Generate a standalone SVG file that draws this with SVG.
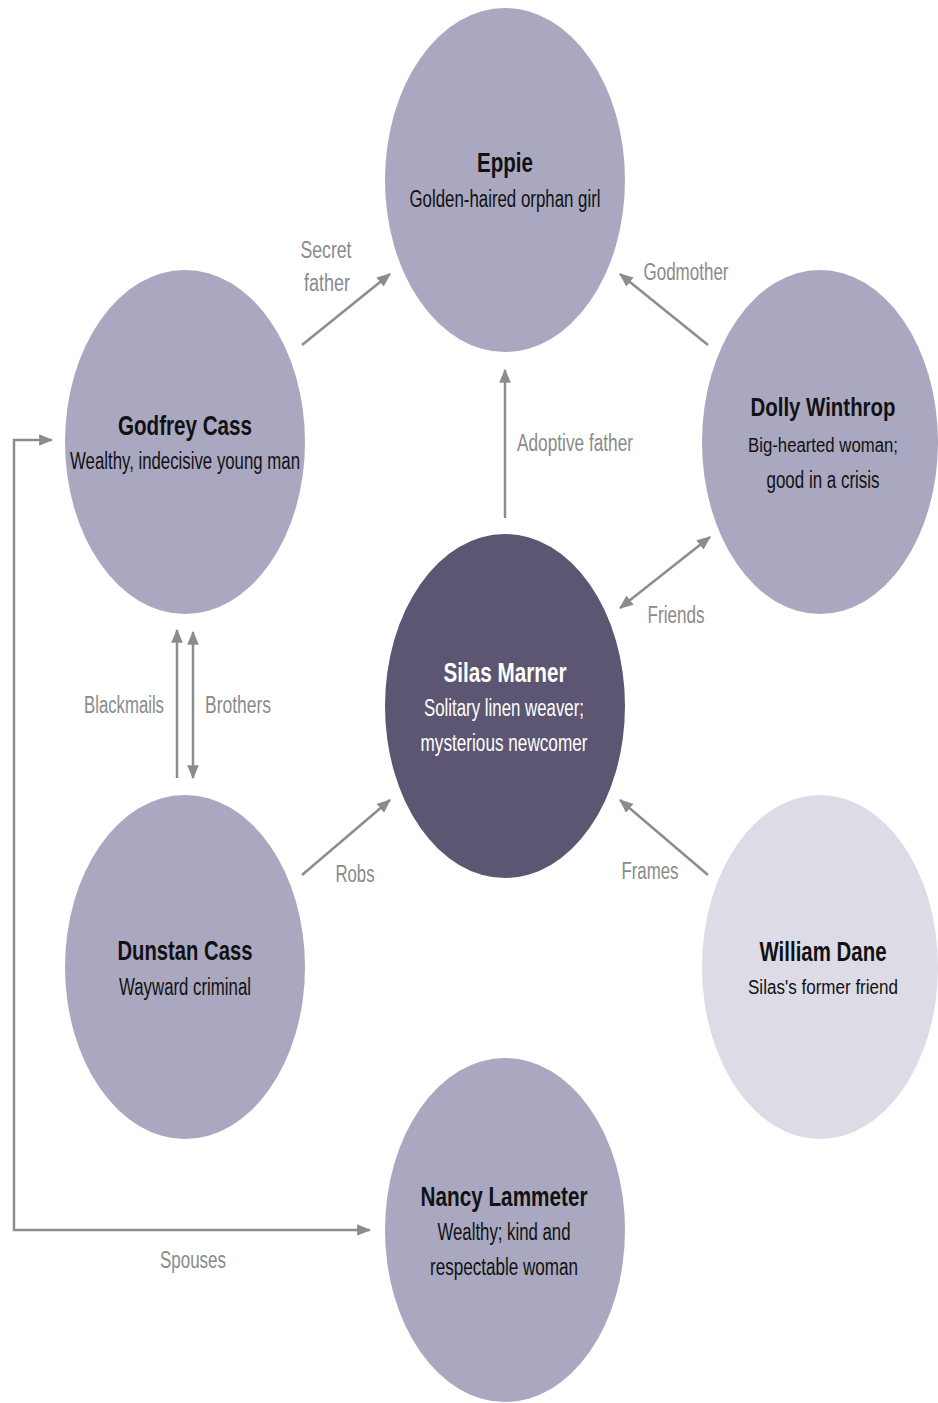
<svg xmlns="http://www.w3.org/2000/svg" width="938" height="1403" viewBox="0 0 938 1403">
<style>
.n{fill:#aaa8c0}
.c{fill:#5c5672}
.l{fill:#dddbe6}
.t{font-family:"Liberation Sans",Arial,sans-serif;font-weight:bold;font-size:28px;fill:#111;text-anchor:middle}
.s{font-family:"Liberation Sans",Arial,sans-serif;font-size:23px;fill:#111;text-anchor:middle}
.w{fill:#fff}
.sm{font-size:20px}
.tm{font-size:25px}
.lab{font-family:"Liberation Sans",Arial,sans-serif;font-size:23px;fill:#8a8a8a;text-anchor:middle}
.e{stroke:#8c8c8c;stroke-width:2.5;fill:none}
</style>
<defs>
<marker id="ah" viewBox="0 0 12 10" refX="11" refY="5" markerWidth="14" markerHeight="12" markerUnits="userSpaceOnUse" orient="auto-start-reverse">
<path d="M0,0 L12,5 L0,10 Z" fill="#8c8c8c"/>
</marker>
</defs>
<rect width="938" height="1403" fill="#fff"/>
<g id="connectors">
<line class="e" x1="302" y1="345" x2="390" y2="274" marker-end="url(#ah)"/>
<line class="e" x1="708" y1="345" x2="620" y2="274" marker-end="url(#ah)"/>
<line class="e" x1="505" y1="518" x2="505" y2="370" marker-end="url(#ah)"/>
<line class="e" x1="620" y1="608" x2="710" y2="537" marker-start="url(#ah)" marker-end="url(#ah)"/>
<line class="e" x1="177" y1="778" x2="177" y2="630" marker-end="url(#ah)"/>
<line class="e" x1="193" y1="632" x2="193" y2="778" marker-start="url(#ah)" marker-end="url(#ah)"/>
<line class="e" x1="302" y1="875" x2="390" y2="800" marker-end="url(#ah)"/>
<line class="e" x1="708" y1="875" x2="620" y2="800" marker-end="url(#ah)"/>
<path class="e" d="M52,440 H14 V1230 H370" marker-start="url(#ah)" marker-end="url(#ah)"/>
<text class="lab" x="326" y="258" textLength="51" lengthAdjust="spacingAndGlyphs">Secret</text>
<text class="lab" x="327" y="291" textLength="46" lengthAdjust="spacingAndGlyphs">father</text>
<text class="lab" x="686" y="280" textLength="85" lengthAdjust="spacingAndGlyphs">Godmother</text>
<text class="lab" x="575" y="451" textLength="116" lengthAdjust="spacingAndGlyphs">Adoptive father</text>
<text class="lab" x="676" y="623" textLength="57" lengthAdjust="spacingAndGlyphs">Friends</text>
<text class="lab" x="124" y="713" textLength="80" lengthAdjust="spacingAndGlyphs">Blackmails</text>
<text class="lab" x="238" y="713" textLength="66" lengthAdjust="spacingAndGlyphs">Brothers</text>
<text class="lab" x="355" y="882" textLength="39" lengthAdjust="spacingAndGlyphs">Robs</text>
<text class="lab" x="650" y="879" textLength="57" lengthAdjust="spacingAndGlyphs">Frames</text>
<text class="lab" x="193" y="1268" textLength="66" lengthAdjust="spacingAndGlyphs">Spouses</text>
</g>
<g id="eppie">
<ellipse class="n" cx="505" cy="180" rx="120" ry="172"/>
<text class="t" x="505" y="172" textLength="56" lengthAdjust="spacingAndGlyphs">Eppie</text>
<text class="s" x="505" y="207" textLength="191" lengthAdjust="spacingAndGlyphs">Golden-haired orphan girl</text>
</g>
<g id="godfrey">
<ellipse class="n" cx="185" cy="442" rx="120" ry="172"/>
<text class="t" x="185" y="435" textLength="134" lengthAdjust="spacingAndGlyphs">Godfrey Cass</text>
<text class="s" x="185" y="469" textLength="230" lengthAdjust="spacingAndGlyphs">Wealthy, indecisive young man</text>
</g>
<g id="dolly">
<ellipse class="n" cx="820" cy="442" rx="118" ry="172"/>
<text class="t tm" x="823" y="416" textLength="145" lengthAdjust="spacingAndGlyphs">Dolly Winthrop</text>
<text class="s sm" x="823" y="452" textLength="150" lengthAdjust="spacingAndGlyphs">Big-hearted woman;</text>
<text class="s" x="823" y="488" textLength="113" lengthAdjust="spacingAndGlyphs">good in a crisis</text>
</g>
<g id="silas">
<ellipse class="c" cx="505" cy="706" rx="120" ry="172"/>
<text class="t w" x="505" y="682" textLength="123" lengthAdjust="spacingAndGlyphs">Silas Marner</text>
<text class="s w" x="504" y="716" textLength="160" lengthAdjust="spacingAndGlyphs">Solitary linen weaver;</text>
<text class="s w" x="504" y="751" textLength="167" lengthAdjust="spacingAndGlyphs">mysterious newcomer</text>
</g>
<g id="dunstan">
<ellipse class="n" cx="185" cy="967" rx="120" ry="172"/>
<text class="t" x="185" y="960" textLength="135" lengthAdjust="spacingAndGlyphs">Dunstan Cass</text>
<text class="s" x="185" y="995" textLength="132" lengthAdjust="spacingAndGlyphs">Wayward criminal</text>
</g>
<g id="william">
<ellipse class="l" cx="820" cy="967" rx="118" ry="172"/>
<text class="t" x="823" y="961" textLength="127" lengthAdjust="spacingAndGlyphs">William Dane</text>
<text class="s sm" x="823" y="994" textLength="150" lengthAdjust="spacingAndGlyphs">Silas's former friend</text>
</g>
<g id="nancy">
<ellipse class="n" cx="505" cy="1230" rx="120" ry="172"/>
<text class="t" x="504" y="1206" textLength="167" lengthAdjust="spacingAndGlyphs">Nancy Lammeter</text>
<text class="s" x="504" y="1240" textLength="133" lengthAdjust="spacingAndGlyphs">Wealthy; kind and</text>
<text class="s" x="504" y="1275" textLength="148" lengthAdjust="spacingAndGlyphs">respectable woman</text>
</g>
</svg>
